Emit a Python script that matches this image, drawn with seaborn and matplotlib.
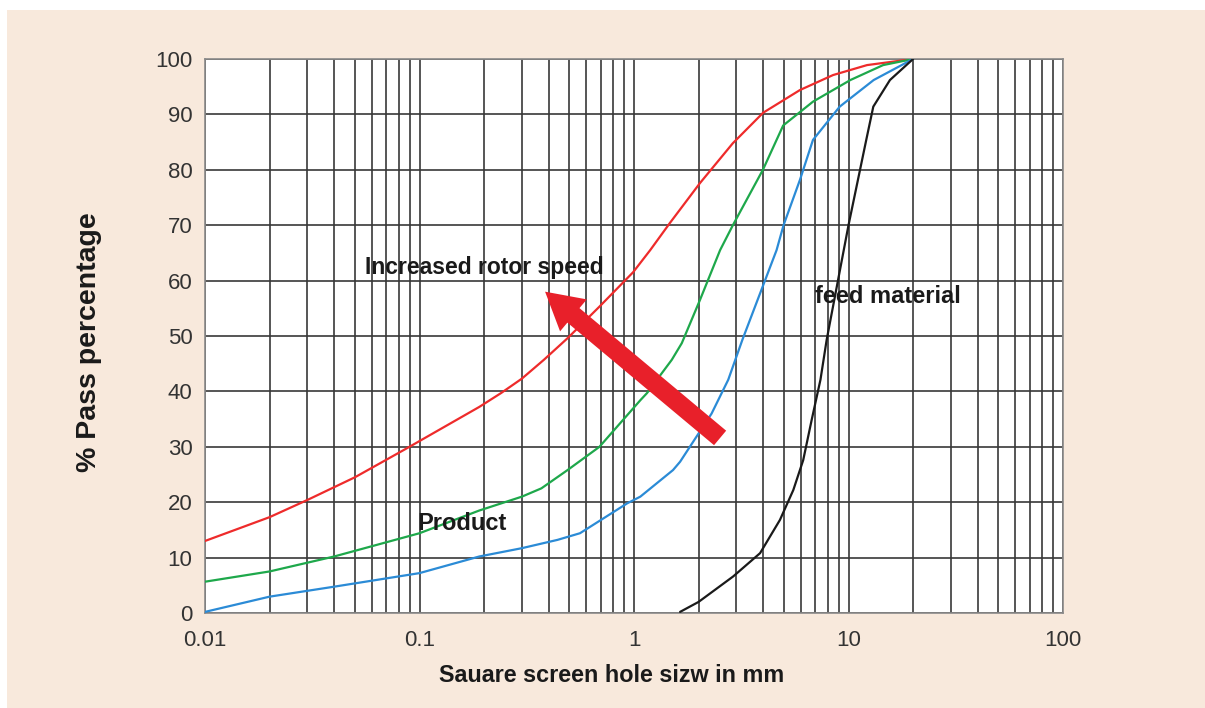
import numpy as np
import pandas as pd
import matplotlib
matplotlib.use("Agg")
import matplotlib.pyplot as plt
import seaborn as sns
from matplotlib.patches import Rectangle
from matplotlib.ticker import LogLocator, FixedLocator, FixedFormatter, NullFormatter

# ---- data ----
red_x = [0.01, 0.02, 0.03, 0.05, 0.087, 0.19, 0.24, 0.3, 0.38, 0.49, 0.69, 0.99, 1.19, 1.47, 2.03, 2.89, 4.0, 5.94, 8.47, 12.2, 20]
red_y = [13, 17.3, 20.4, 24.5, 29.7, 37.2, 39.7, 42.3, 45.7, 49.6, 55.3, 61.5, 65.5, 70.4, 77.6, 84.8, 90.3, 94.4, 97.1, 98.9, 100]

green_x = [0.01, 0.02, 0.04, 0.1, 0.19, 0.3, 0.37, 0.49, 0.69, 1.07, 1.15, 1.5, 1.67, 2.03, 2.52, 2.89, 3.99, 4.96, 6.83, 10.2, 14.5, 20]
green_y = [5.65, 7.5, 10.2, 14.4, 18.5, 21.0, 22.5, 25.8, 30.0, 38.4, 39.7, 45.7, 48.7, 56.5, 65.5, 70.0, 80.0, 88.0, 92.3, 96.2, 98.9, 100]

blue_x = [0.01, 0.02, 0.04, 0.1, 0.19, 0.3, 0.44, 0.56, 0.93, 1.07, 1.52, 1.64, 2.3, 2.75, 3.2, 4.62, 4.98, 5.94, 6.83, 9.1, 13.1, 20]
blue_y = [0.2, 2.95, 4.75, 7.2, 10.2, 11.7, 13.2, 14.4, 19.8, 21.0, 25.8, 27.3, 36.0, 42.1, 49.3, 65.5, 70.0, 78.2, 85.4, 91.4, 96.2, 100]

black_x = [1.64, 2.0, 2.9, 3.87, 4.79, 5.53, 6.15, 6.73, 7.4, 7.91, 10.0, 12.1, 13.05, 15.6, 20]
black_y = [0.2, 2.0, 6.6, 10.8, 16.8, 22.2, 27.6, 34.8, 42.1, 49.3, 70.0, 85.4, 91.4, 96.2, 100]

series_names = ["red", "green", "blue", "feed"]
x_ticks = [0.01, 0.1, 1, 10, 100]
x_tick_labels = ["0.01", "0.1", "1", "10", "100"]
y_ticks = [0, 10, 20, 30, 40, 50, 60, 70, 80, 90, 100]

arrow_tail = (2.52, 31.6)
arrow_tip = (0.385, 58.0)

# ---- build long-form table ----
frames = []
for name, xs, ys in zip(series_names, [red_x, green_x, blue_x, black_x], [red_y, green_y, blue_y, black_y]):
    frames.append(pd.DataFrame({"size": xs, "pass": ys, "series": name}))
df = pd.concat(frames, ignore_index=True)

sns.set_theme(style="white")
plt.rcParams["font.family"] = ["Liberation Sans", "DejaVu Sans"]
plt.rcParams["lines.solid_joinstyle"] = "round"
plt.rcParams["lines.solid_capstyle"] = "round"

beige = "#f8e9dc"
fig = plt.figure(figsize=(12.05, 7.08), dpi=100, facecolor="white")
fig.patches.append(Rectangle((7 / 1205, 0), 1, 698 / 708, transform=fig.transFigure,
                             facecolor=beige, edgecolor="none", zorder=-10))
ax = fig.add_axes([205 / 1205, 95 / 708, 858 / 1205, 554 / 708])
ax.set_facecolor("white")

palette = {"red": "#ee2b2b", "green": "#1ea84b", "blue": "#2b8bd6", "feed": "#1a1a1a"}
sns.lineplot(data=df, x="size", y="pass", hue="series", palette=palette, sort=False,
             estimator=None, linewidth=1.6, legend=False, ax=ax, zorder=3)

ax.set_xscale("log")
ax.set_xlim(0.01, 100)
ax.set_ylim(0, 100)

ax.xaxis.set_major_locator(FixedLocator(x_ticks))
ax.xaxis.set_major_formatter(FixedFormatter(x_tick_labels))
ax.xaxis.set_minor_locator(LogLocator(base=10, subs=np.arange(2, 10), numticks=20))
ax.xaxis.set_minor_formatter(NullFormatter())
ax.set_yticks(y_ticks)

gridc = "#383838"
ax.grid(True, which="both", axis="x", color=gridc, linewidth=1.2, zorder=1)
ax.grid(True, which="major", axis="y", color=gridc, linewidth=1.2, zorder=1)
ax.set_axisbelow(True)

for s in ax.spines.values():
    s.set_color("#8a8a8a")
    s.set_linewidth(1.2)

ax.tick_params(axis="both", which="major", direction="out", length=3, width=1,
               color="#8a8a8a", labelsize=16, labelcolor="#333333")
ax.tick_params(axis="x", which="major", pad=9)
ax.tick_params(axis="y", which="major", pad=6)
ax.tick_params(axis="x", which="minor", length=0)

ax.set_xlabel("")
ax.set_ylabel("")
fig.text(612 / 1205, 1 - 676 / 708, "Sauare screen hole sizw in mm", fontsize=16.8,
         fontweight="bold", color="#1a1a1a", ha="center", va="center")
fig.text(89 / 1205, 1 - 342 / 708, "% Pass percentage", fontsize=20.5, rotation=90,
         fontweight="bold", color="#1a1a1a", ha="center", va="center")

ax.text(0.056, 62.3, "Increased rotor speed", fontsize=16.5, fontweight="bold",
        color="#1a1a1a", va="center", ha="left", zorder=5)
ax.text(0.098, 16.2, "Product", fontsize=17, fontweight="bold",
        color="#1a1a1a", va="center", ha="left", zorder=5)
ax.text(6.95, 57.2, "feed material", fontsize=17, fontweight="bold",
        color="#1a1a1a", va="center", ha="left", zorder=5)

ax.annotate("", xy=arrow_tip, xytext=arrow_tail,
            arrowprops=dict(arrowstyle="simple,head_length=1.33,head_width=1.5,tail_width=0.68",
                            mutation_scale=20, color="#e8202a", shrinkA=0, shrinkB=0,
                            linewidth=0),
            zorder=6)

fig.savefig("out.png", dpi=100, facecolor=fig.get_facecolor())
